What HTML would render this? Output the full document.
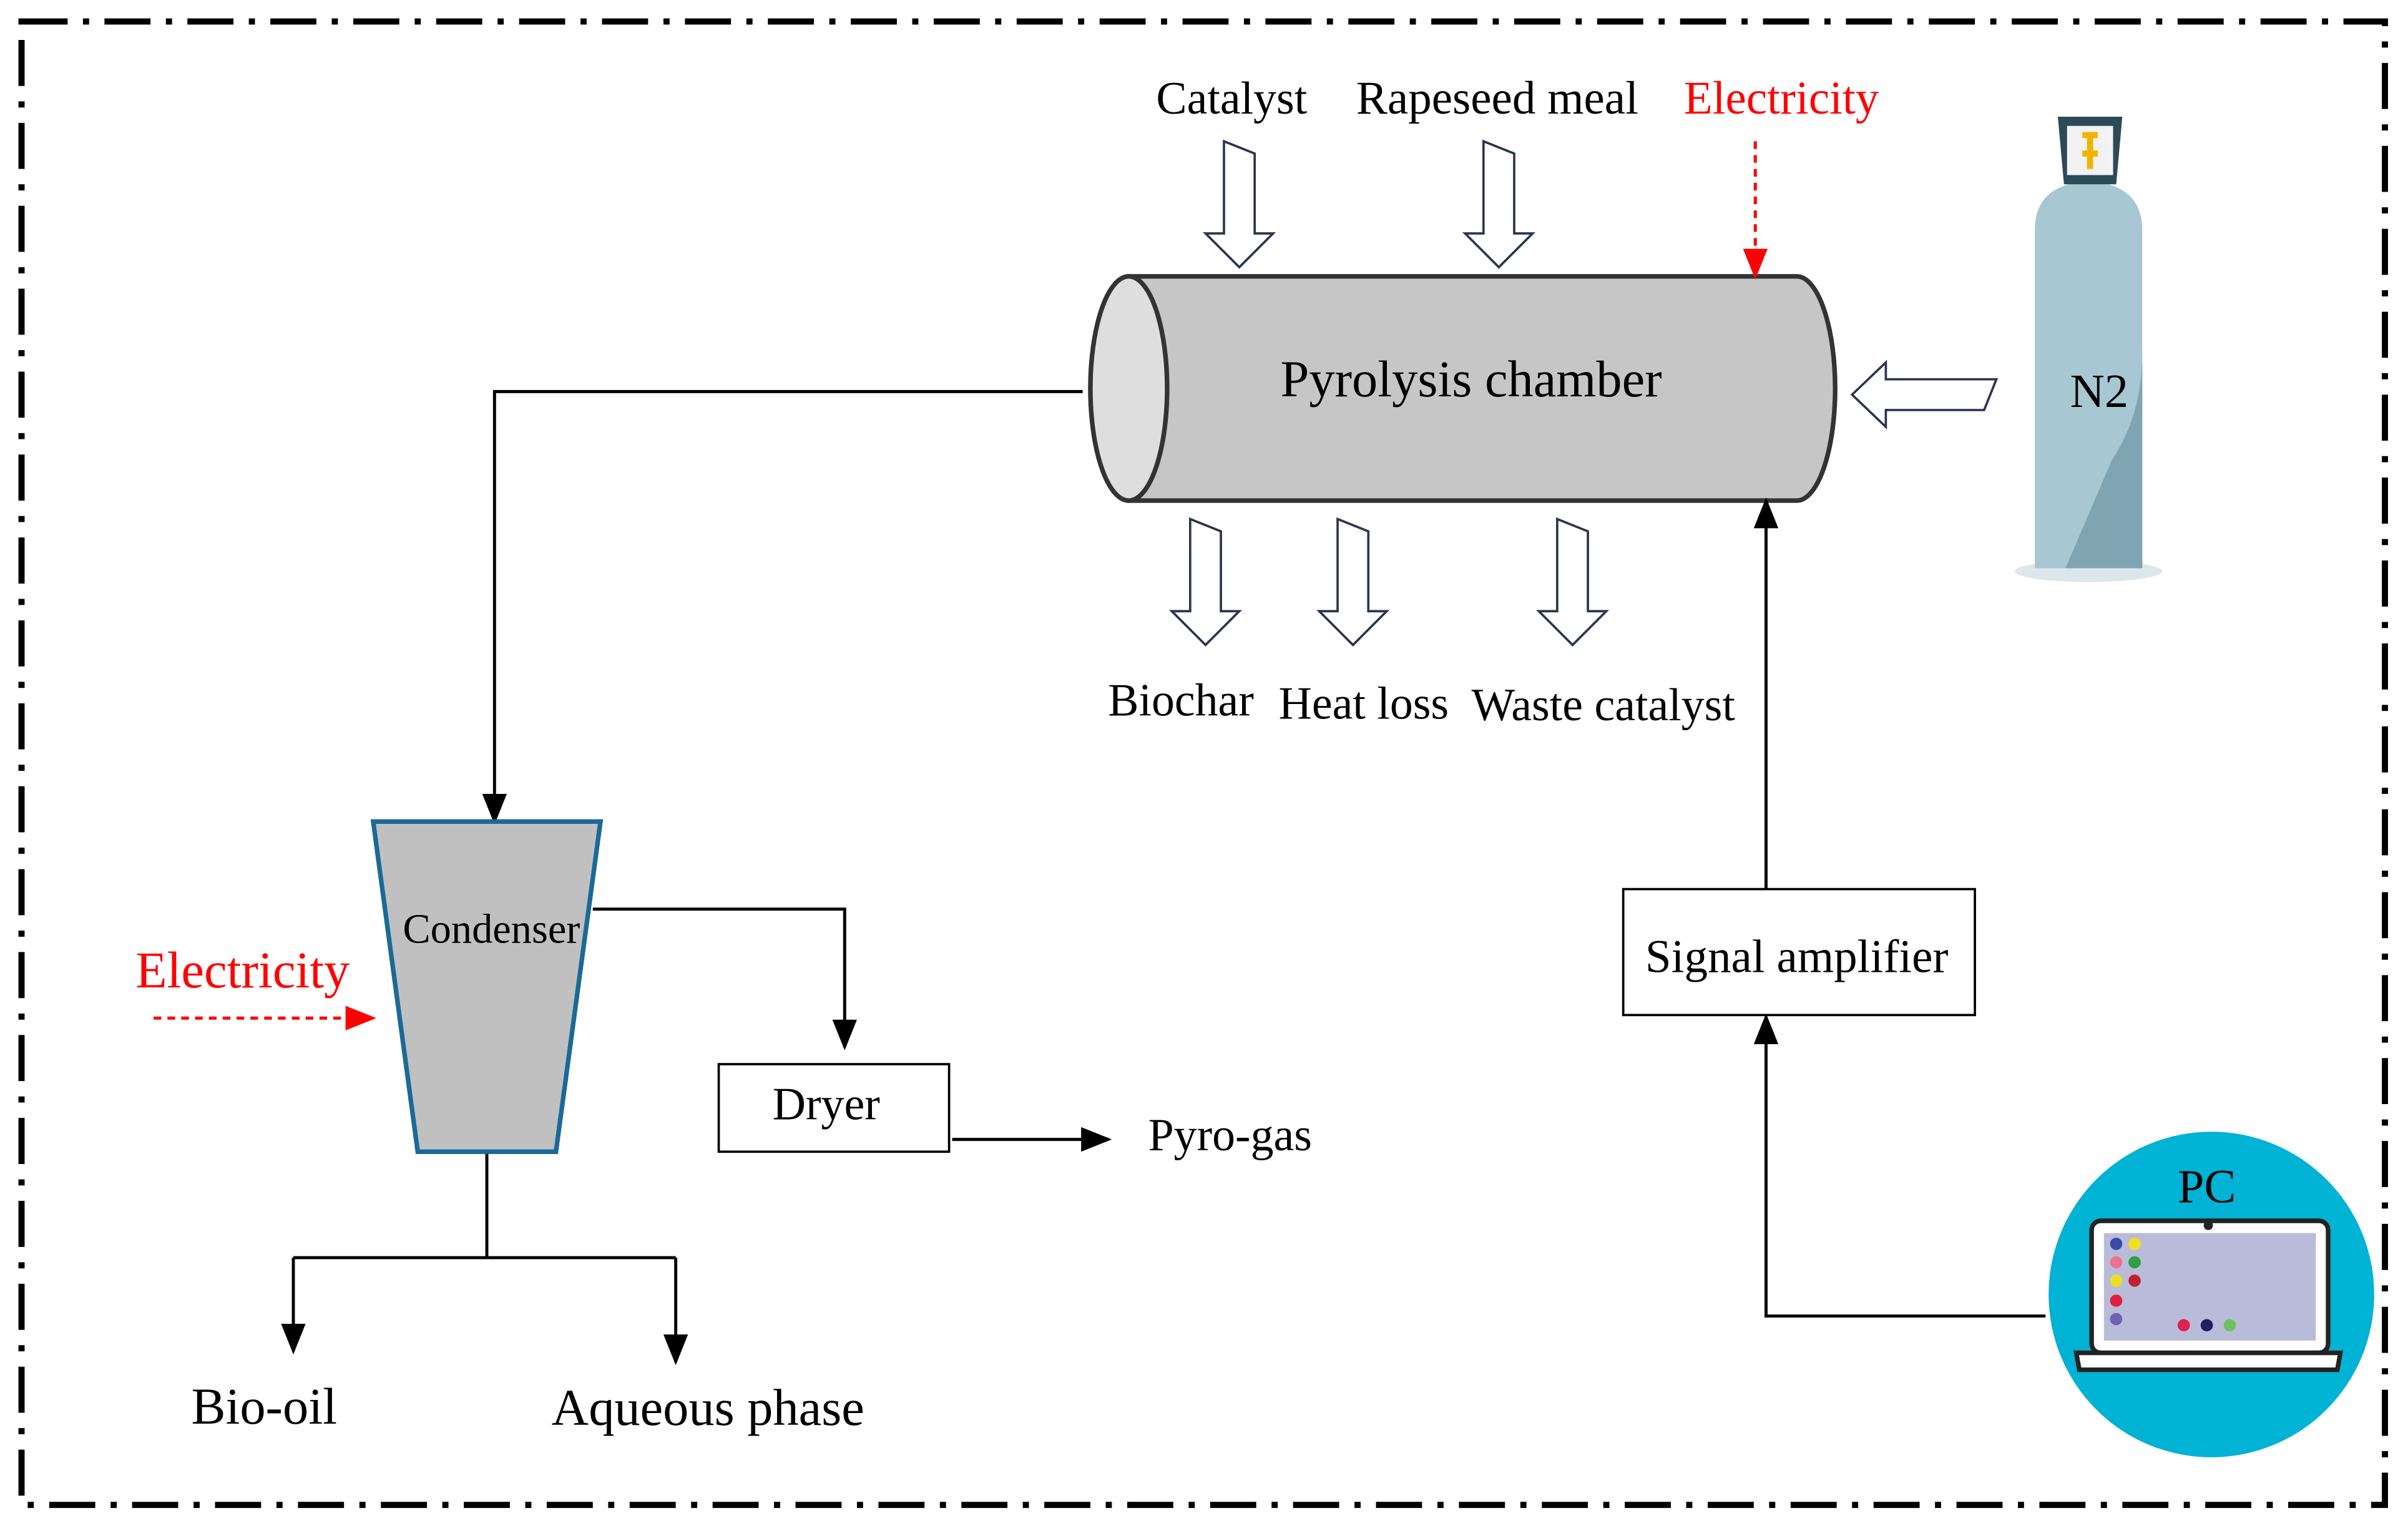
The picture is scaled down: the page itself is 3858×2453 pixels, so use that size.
<!DOCTYPE html>
<html><head><meta charset="utf-8"><style>
html,body{margin:0;padding:0;background:#fff;}
svg{display:block;}
text{font-family:"Liberation Serif",serif;}
</style></head><body>
<svg width="3858" height="2453" viewBox="0 0 1568 997" xmlns="http://www.w3.org/2000/svg">
<defs>
<marker id="ahb" markerWidth="20" markerHeight="20" refX="18" refY="10" orient="auto" markerUnits="userSpaceOnUse" viewBox="0 0 20 20">
<path d="M0,2 L20,10 L0,18 z" fill="#000"/></marker>
<marker id="ahr" markerWidth="20" markerHeight="20" refX="18" refY="10" orient="auto" markerUnits="userSpaceOnUse" viewBox="0 0 20 20">
<path d="M0,2 L20,10 L0,18 z" fill="#f00"/></marker>
</defs>
<rect width="1568" height="997" fill="#fff"/>
<rect x="14" y="14" width="1539" height="966" fill="none" stroke="#000" stroke-width="4" stroke-dasharray="30,10,4,10"/>

<path d="M735,180 L1170,180 A25,73 0 0 1 1170,326 L735,326 Z" fill="#c6c6c6" stroke="#333" stroke-width="3"/>
<ellipse cx="735" cy="253" rx="25" ry="73" fill="#dedede" stroke="#333" stroke-width="3"/>
<text x="958" y="258" font-size="33.5" text-anchor="middle">Pyrolysis chamber</text>

<text x="802" y="74" font-size="30" text-anchor="middle">Catalyst</text>
<text x="975" y="74" font-size="30.5" text-anchor="middle">Rapeseed meal</text>
<text x="1160" y="74" font-size="30.5" text-anchor="middle" fill="#f00">Electricity</text>

<g fill="#fff" stroke="#2a3550" stroke-width="1.5">
<path d="M797,92 L817,100 L817,152 L829,152 L807,174 L785,152 L797,152 Z"/>
<path d="M966,92 L986,100 L986,152 L998,152 L976,174 L954,152 L966,152 Z"/>
<path d="M775,338 L795,346 L795,398 L807,398 L785,420 L763,398 L775,398 Z"/>
<path d="M871,338 L891,346 L891,398 L903,398 L881,420 L859,398 L871,398 Z"/>
<path d="M1014,338 L1034,346 L1034,398 L1046,398 L1024,420 L1002,398 L1014,398 Z"/>
<path d="M1300,247 L1292,267 L1228,267 L1228,278 L1206,257 L1228,236 L1228,247 Z"/>
</g>
<line x1="1143" y1="92" x2="1143" y2="180" stroke="#f00" stroke-width="2" stroke-dasharray="5,4" marker-end="url(#ahr)"/>

<text x="769" y="466" font-size="30" text-anchor="middle">Biochar</text>
<text x="888" y="468" font-size="30" text-anchor="middle">Heat loss</text>
<text x="1044" y="469" font-size="30" text-anchor="middle">Waste catalyst</text>

<ellipse cx="1360" cy="372" rx="48" ry="7" fill="#dde6ea"/>
<path d="M1325,150 Q1325,120 1360,118 Q1395,120 1395,150 L1395,370 L1325,370 Z" fill="#a7c7d3"/>
<path d="M1375,300 Q1395,270 1395,230 L1395,370 L1345,370 Z" fill="#7fa5b2"/>
<path d="M1340,76 L1382,76 L1378,120 L1344,120 Z" fill="#2d4a58"/>
<rect x="1346" y="82" width="30" height="32" fill="#f2f2f2"/>
<path d="M1356,88 L1366,88 M1361,88 L1361,110 M1356,100 L1366,100" stroke="#f0b400" stroke-width="4"/>
<text x="1367" y="265" font-size="31" text-anchor="middle">N2</text>

<g stroke="#000" stroke-width="2" fill="none">
<path d="M705,255 L322,255 L322,535" marker-end="url(#ahb)"/>
<path d="M386,592 L550,592 L550,682" marker-end="url(#ahb)"/>
<path d="M620,742 L722,742" marker-end="url(#ahb)"/>
<path d="M317,750 L317,819 M191,819 L440,819"/>
<path d="M191,819 L191,880" marker-end="url(#ahb)"/>
<path d="M440,819 L440,887" marker-end="url(#ahb)"/>
<path d="M1150,579 L1150,326" marker-end="url(#ahb)"/>
<path d="M1332,857 L1150,857 L1150,662" marker-end="url(#ahb)"/>
</g>

<path d="M243,535 L391,535 L362,750 L272,750 Z" fill="#c0c0c0" stroke="#1a6a98" stroke-width="3"/>
<text x="320" y="614" font-size="27" text-anchor="middle">Condenser</text>
<text x="158" y="643" font-size="33.5" text-anchor="middle" fill="#f00">Electricity</text>
<line x1="100" y1="663" x2="243" y2="663" stroke="#f00" stroke-width="2" stroke-dasharray="5,4" marker-end="url(#ahr)"/>

<rect x="468" y="693" width="150" height="57" fill="#fff" stroke="#000" stroke-width="1.5"/>
<text x="538" y="729" font-size="30" text-anchor="middle">Dryer</text>
<text x="801" y="749" font-size="30" text-anchor="middle">Pyro-gas</text>

<text x="172" y="927" font-size="33.5" text-anchor="middle">Bio-oil</text>
<text x="461" y="928" font-size="33.5" text-anchor="middle">Aqueous phase</text>

<rect x="1057" y="579" width="229" height="82" fill="#fff" stroke="#000" stroke-width="1.5"/>
<text x="1170" y="633" font-size="30.5" text-anchor="middle">Signal amplifier</text>

<circle cx="1440" cy="843" r="106" fill="#00b2d4"/>
<text x="1437" y="783" font-size="31" text-anchor="middle">PC</text>
<rect x="1362" y="795" width="154" height="86" rx="6" fill="#fff" stroke="#222" stroke-width="3"/>
<rect x="1370" y="803" width="138" height="70" fill="#b9bcd8"/>
<path d="M1352,881 L1524,881 L1522,892 L1354,892 Z" fill="#fff" stroke="#222" stroke-width="3"/>
<circle cx="1438" cy="798" r="3" fill="#222"/>
<g>
<circle cx="1378" cy="810" r="4" fill="#3a4aa8"/><circle cx="1390" cy="810" r="4" fill="#f0e020"/>
<circle cx="1378" cy="822" r="4" fill="#f07090"/><circle cx="1390" cy="822" r="4" fill="#30a040"/>
<circle cx="1378" cy="834" r="4" fill="#e8e020"/><circle cx="1390" cy="834" r="4" fill="#c02030"/>
<circle cx="1378" cy="847" r="4" fill="#e02040"/><circle cx="1378" cy="859" r="4" fill="#7060b0"/>
<circle cx="1422" cy="863" r="4" fill="#e02050"/><circle cx="1437" cy="863" r="4" fill="#202060"/><circle cx="1452" cy="863" r="4" fill="#70c060"/>
</g>
</svg>
</body></html>
